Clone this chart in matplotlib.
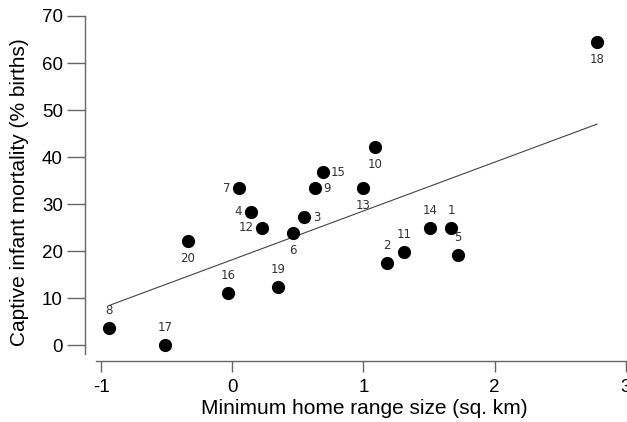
import numpy as np
import matplotlib.pyplot as plt

plt.rcParams['font.family'] = ['Liberation Sans', 'DejaVu Sans']
plt.rcParams['axes.unicode_minus'] = False

# point ids, home range (log sq. km) and captive infant mortality (% births)
ids = [1, 2, 3, 4, 5, 6, 7, 8, 9, 10, 11, 12, 13, 14, 15, 16, 17, 18, 19, 20]
home_range = [1.67, 1.18, 0.55, 0.14, 1.72, 0.46, 0.05, -0.94, 0.63, 1.09,
              1.31, 0.23, 1.00, 1.51, 0.69, -0.03, -0.51, 2.78, 0.35, -0.34]
mortality = [24.9, 17.4, 27.2, 28.4, 19.1, 23.9, 33.4, 3.6, 33.4, 42.1,
             19.8, 24.9, 33.4, 24.9, 36.8, 11.0, 0.0, 64.5, 12.4, 22.1]
# where each id label sits
label_side = ['above', 'above', 'right', 'left', 'above', 'below', 'left', 'above',
              'right', 'below', 'above', 'left', 'below', 'above', 'right', 'above',
              'above', 'below', 'above', 'below']

# fitted line end points
fit_x = [-0.93, 2.78]
fit_y = [8.5, 47.0]

fig = plt.figure(figsize=(6.27, 4.22), dpi=100)
ax = fig.add_axes([85 / 627, 1 - 361 / 422, 542 / 627, 345 / 422])

ax.plot(fit_x, fit_y, color='#444444', lw=0.8, zorder=1)
ax.scatter(home_range, mortality, s=72, color='black', zorder=2)

offsets = {'above': ((0, 8), 'center', 'bottom'),
           'below': ((0, -8), 'center', 'top'),
           'left': ((-6, 0), 'right', 'center'),
           'right': ((6, 0), 'left', 'center')}
for i, x, y, side in zip(ids, home_range, mortality, label_side):
    off, ha, va = offsets[side]
    ax.annotate(str(i), (x, y), xytext=off, textcoords='offset points',
                ha=ha, va=va, fontsize=8.5, color='#333333', family='DejaVu Sans')

ax.set_xlim(-1.122, 3.008)
ax.set_ylim(-3.4, 70)
ax.set_xticks([-1, 0, 1, 2, 3])
ax.set_yticks([0, 10, 20, 30, 40, 50, 60, 70])

for s in ['top', 'right']:
    ax.spines[s].set_visible(False)
ax.spines['left'].set_bounds(-1.9, 70)
ax.spines['bottom'].set_bounds(-1.04, 3.0)
for s in ['left', 'bottom']:
    ax.spines[s].set_color('#666666')
    ax.spines[s].set_linewidth(1.0)

ax.tick_params(axis='y', length=13, width=1, color='#666666', labelsize=13.5, pad=3)
ax.tick_params(axis='x', length=8, width=1, color='#666666', labelsize=13.5, pad=5)

ax.set_xlabel('Minimum home range size (sq. km)', fontsize=15)
ax.set_ylabel('Captive infant mortality (% births)', fontsize=15)
ax.xaxis.set_label_coords(0.515, -0.11)
ax.yaxis.set_label_coords(-0.104, 0.49)

fig.savefig('out.png', dpi=100)
